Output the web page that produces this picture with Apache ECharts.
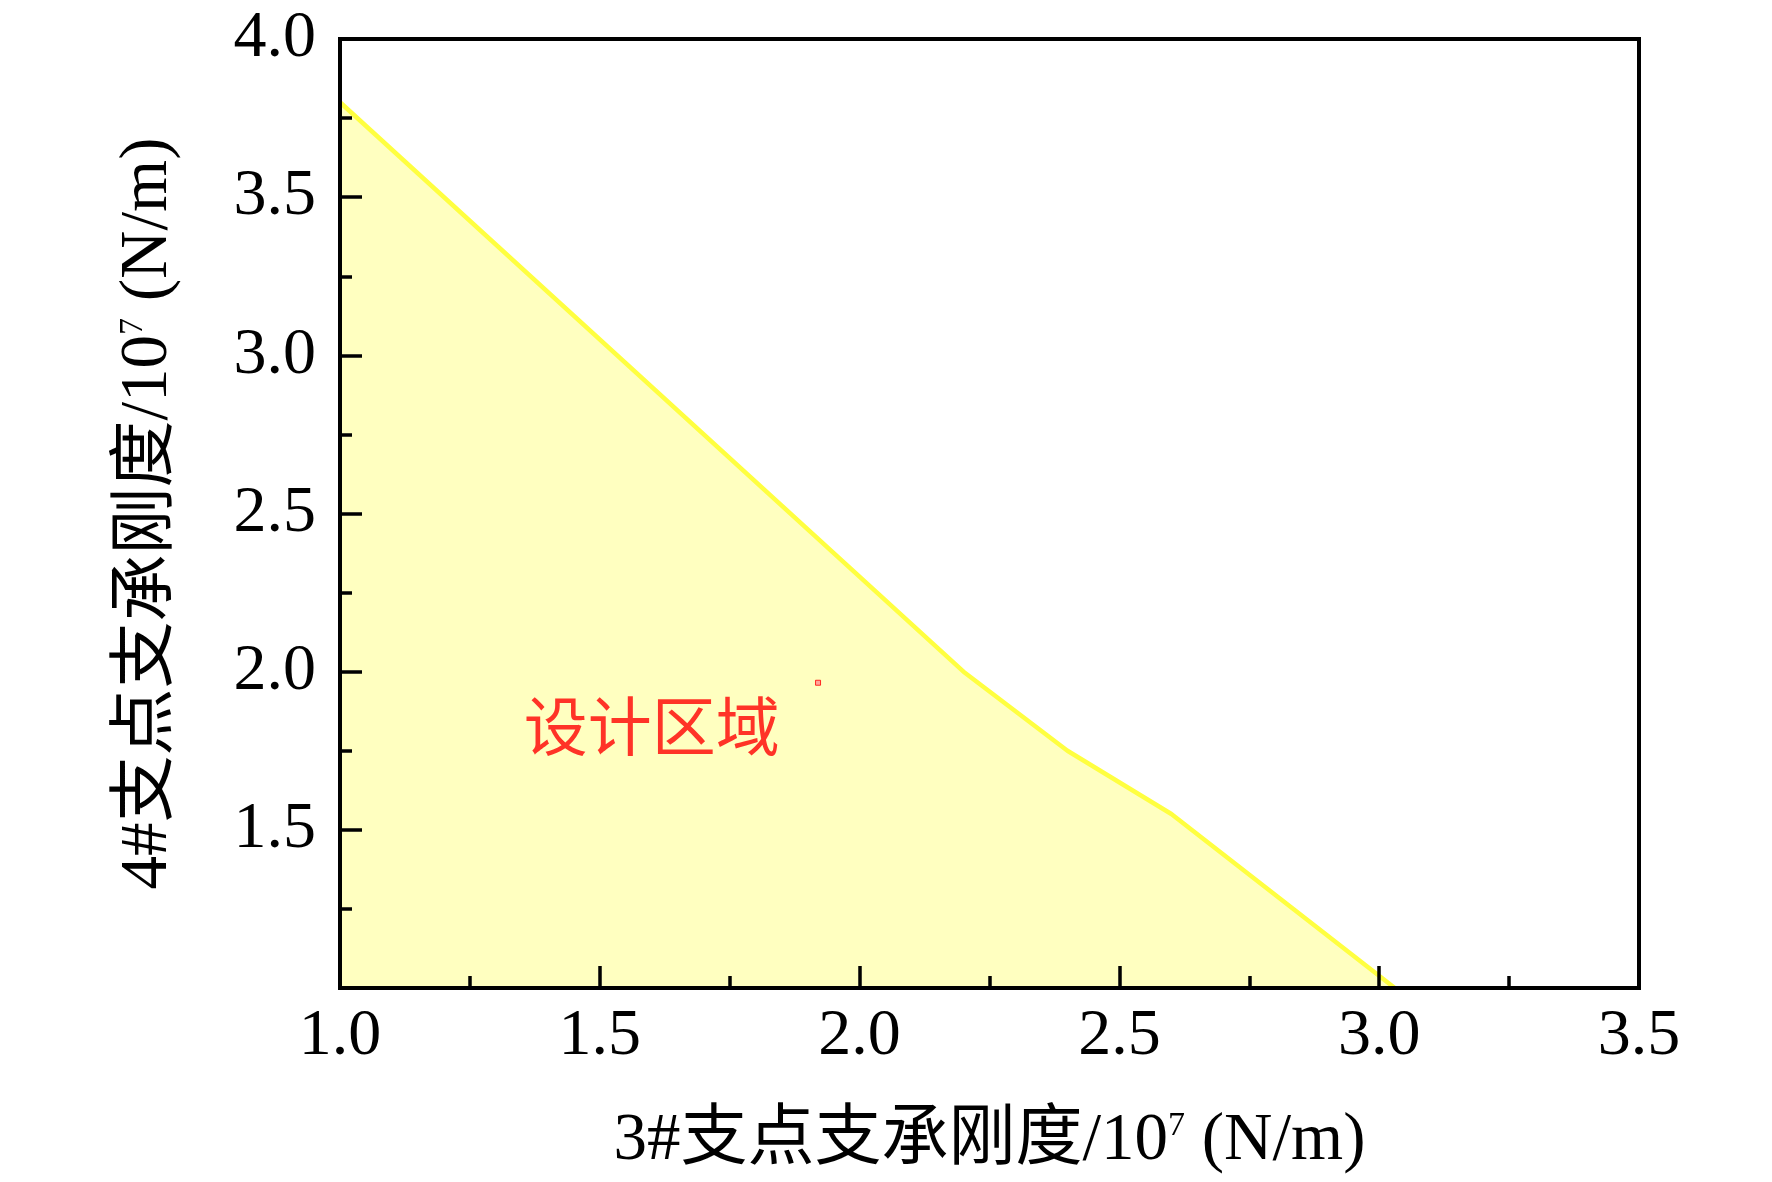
<!DOCTYPE html>
<html>
<head>
<meta charset="utf-8">
<title>设计区域</title>
<script src="https://cdn.jsdelivr.net/npm/echarts@6/dist/echarts.min.js"></script>
<style>
  html, body { margin: 0; padding: 0; background: #fff; }
  #chart { width: 1772px; height: 1182px; }
</style>
</head>
<body>
<div id="chart"></div>
<script>
// Boundary of the design region (3# stiffness vs 4# stiffness, x10^7 N/m)
const boundaryX = [1.0, 2.2, 2.4, 2.6, 3.03];
const boundaryY = [3.80, 2.00, 1.75, 1.55, 1.00];

// Small marker inside the region
const markerX = [1.92];
const markerY = [1.965];

// Region label and where it sits (data coordinates)
const regionLabel = '设计区域';
const regionLabelPos = [1.60, 1.83];

const xTitle = '3#支点支承刚度/10{sup|7} (N/m)';
const yTitle = '4#支点支承刚度/10{sup|7} (N/m)';

const FONT = "'Liberation Serif', 'Times New Roman', 'Noto Sans CJK SC', serif";

const titleStyle = {
    fontSize: 67,
    color: '#000',
    fontFamily: FONT,
    rich: {
        sup: { fontSize: 34, fontFamily: FONT, color: '#000', verticalAlign: 'bottom', padding: [0, 0, 32, 0] }
    }
};

function axisCommon() {
    return {
        type: 'value',
        z: 10,
        axisLine: { show: true, onZero: false, lineStyle: { color: '#000', width: 4 } },
        axisTick: { show: true, inside: true, length: 22, lineStyle: { color: '#000', width: 3.5 } },
        minorTick: { show: true, splitNumber: 2, length: 12, lineStyle: { color: '#000', width: 3.5 } },
        splitLine: { show: false },
        axisLabel: {
            fontSize: 66,
            color: '#000',
            fontFamily: FONT,
            formatter: v => v.toFixed(1)
        },
        nameLocation: 'middle',
        nameTextStyle: titleStyle
    };
}

const xAxis = Object.assign(axisCommon(), {
    min: 1.0, max: 3.5, interval: 0.5,
    name: xTitle,
    nameGap: 120
});
xAxis.axisLabel.margin = 16;

const yAxis = Object.assign(axisCommon(), {
    min: 1.0, max: 4.0, interval: 0.5,
    name: yTitle,
    nameGap: 158
});
yAxis.axisLabel.margin = 24;
yAxis.axisLabel.showMinLabel = false;

const chart = echarts.init(document.getElementById('chart'), null, { renderer: 'canvas' });

chart.setOption({
    animation: false,
    backgroundColor: '#fff',
    grid: {
        left: 340, right: 133, top: 39, bottom: 194,
        show: true, borderColor: '#000', borderWidth: 4, backgroundColor: 'transparent'
    },
    xAxis: xAxis,
    yAxis: yAxis,
    series: [
        {
            type: 'line',
            data: boundaryX.map((x, i) => [x, boundaryY[i]]),
            symbol: 'none',
            lineStyle: { color: '#ffff40', width: 4.5 },
            areaStyle: { color: '#ffffc0', opacity: 1, origin: 'start' },
            z: 1
        },
        {
            type: 'scatter',
            data: markerX.map((x, i) => [x, markerY[i]]),
            symbol: 'rect',
            symbolSize: 5,
            itemStyle: { color: '#ff9090', borderColor: '#ff0000', borderWidth: 1 },
            z: 3
        },
        {
            type: 'scatter',
            data: [regionLabelPos],
            symbolSize: 0,
            label: {
                show: true,
                position: 'inside',
                formatter: regionLabel,
                fontSize: 64,
                color: '#ff0000',
                fontFamily: "'Noto Sans CJK SC', sans-serif"
            },
            z: 4
        }
    ]
});
</script>
</body>
</html>
